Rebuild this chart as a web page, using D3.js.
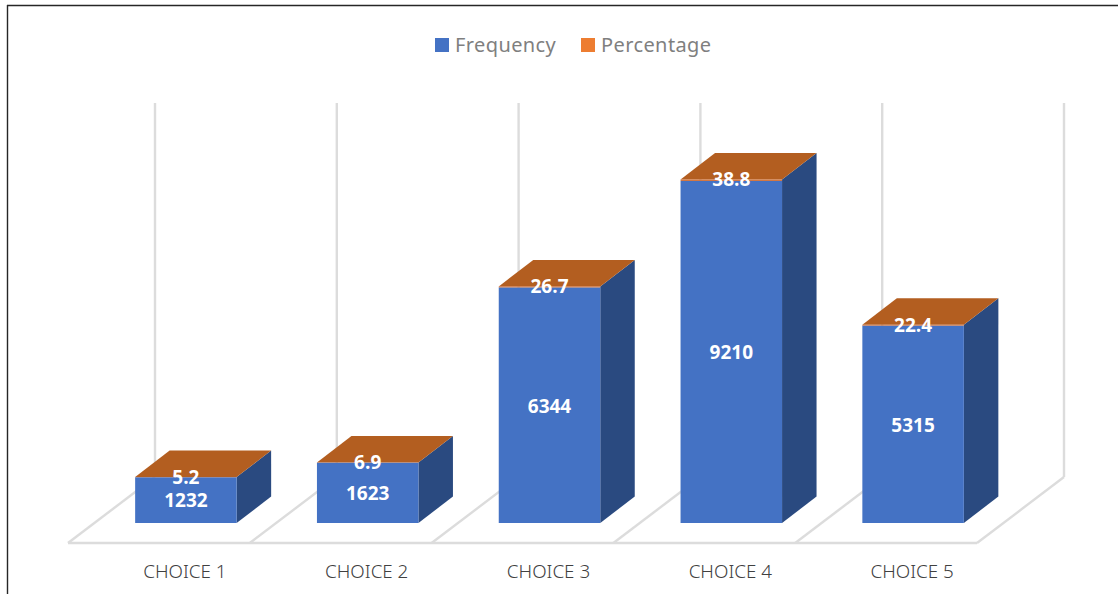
<!DOCTYPE html>
<html>
<head>
<meta charset="utf-8">
<script src="https://cdn.jsdelivr.net/npm/d3@7/dist/d3.min.js"></script>
<style>
  html, body { margin: 0; padding: 0; background: #fff; }
  svg { display: block; }
</style>
</head>
<body>
<svg id="chart" width="1118" height="594"></svg>
<script>
const categories = ["CHOICE 1", "CHOICE 2", "CHOICE 3", "CHOICE 4", "CHOICE 5"];
const frequency = [1232, 1623, 6344, 9210, 5315];
const percentage = [5.2, 6.9, 26.7, 38.8, 22.4];
const seriesNames = ["Frequency", "Percentage"];
const seriesColors = ["#4472C4", "#ED7D31"];

const svg = d3.select("#chart");

// Oblique projection used for the pseudo-3D box look
const floorDepth = { dx: 87, dy: -66 };
const barDepth = { dx: 34.5, dy: -26.5 };
const floorFrontY = 543;
const barBaseY = 523;
const barInset = { dx: 27, dy: -20 };
const wallTop = 103;

const x = d3.scaleBand().domain(categories).range([68, 977]);
const barWidth = 101.5;
const barLeft = c => x(c) + (x.bandwidth() - barWidth) / 2 + barInset.dx;

const stacked = d3.stack().keys([0, 1]).value((d, k) => d[k])(
  frequency.map((f, i) => [f, percentage[i]])
);
const y = d3.scaleLinear()
  .domain([0, d3.max(stacked[1], d => d[1])])
  .range([barBaseY, 179.5]);

// Outer frame of the chart area
const frame = svg.append("g").attr("stroke", "#262626").attr("stroke-width", 1.4).attr("fill", "none");
frame.append("line").attr("x1", 7).attr("x2", 1118).attr("y1", 5.5).attr("y2", 5.5);
frame.append("line").attr("x1", 7.5).attr("x2", 7.5).attr("y1", 5).attr("y2", 594);

// Back wall gridlines and the floor outline
const gridColor = "#DCDCDC";
const divisions = categories.map(c => x(c)).concat([x.range()[1]]);
const grid = svg.append("g").attr("stroke", gridColor).attr("stroke-width", 2.4).attr("fill", "none");
grid.selectAll("line.wall").data(divisions).join("line")
  .attr("class", "wall")
  .attr("x1", d => d + floorDepth.dx).attr("x2", d => d + floorDepth.dx)
  .attr("y1", wallTop).attr("y2", floorFrontY + floorDepth.dy);
grid.selectAll("line.floor").data(divisions).join("line")
  .attr("class", "floor")
  .attr("x1", d => d).attr("x2", d => d + floorDepth.dx)
  .attr("y1", floorFrontY).attr("y2", floorFrontY + floorDepth.dy);
grid.append("line")
  .attr("x1", x.range()[0]).attr("x2", x.range()[1])
  .attr("y1", floorFrontY).attr("y2", floorFrontY);

const poly = pts => pts.map(p => p.join(",")).join(" ");
const faceFront = "#4472C4", faceSide = "#2A4A80", faceTop = "#B35E20", faceEdge = "#D0703A";

const bars = svg.append("g").selectAll("g").data(categories).join("g");

// Side face
bars.append("polygon").attr("fill", faceSide).attr("points", (c, i) => {
  const r = barLeft(c) + barWidth, t = y(stacked[1][i][1]);
  return poly([[r, barBaseY], [r + barDepth.dx, barBaseY + barDepth.dy], [r + barDepth.dx, t + barDepth.dy], [r, t]]);
});
// Top face
bars.append("polygon").attr("fill", faceTop).attr("points", (c, i) => {
  const l = barLeft(c), t = y(stacked[1][i][1]);
  return poly([[l, t], [l + barDepth.dx, t + barDepth.dy], [l + barWidth + barDepth.dx, t + barDepth.dy], [l + barWidth, t]]);
});
// Front face, one slab per series
bars.append("rect").attr("fill", faceFront)
  .attr("x", barLeft).attr("width", barWidth)
  .attr("y", (c, i) => y(stacked[0][i][1]))
  .attr("height", (c, i) => y(0) - y(stacked[0][i][1]));
bars.append("rect").attr("fill", faceEdge)
  .attr("x", barLeft).attr("width", barWidth)
  .attr("y", (c, i) => y(stacked[1][i][1]))
  .attr("height", (c, i) => y(stacked[1][i][0]) - y(stacked[1][i][1]));

// Value labels
const valueFont = "'Open Sans', sans-serif";
const valueSize = 19;
bars.append("text")
  .attr("x", c => barLeft(c) + barWidth / 2)
  .attr("y", (c, i) => (y(0) + y(stacked[0][i][1])) / 2 + 0.5)
  .attr("dy", "0.36em").attr("text-anchor", "middle")
  .attr("font-family", valueFont).attr("font-weight", 700).attr("font-size", valueSize)
  .attr("fill", "#fff").text((c, i) => frequency[i]);
bars.append("text")
  .attr("x", c => barLeft(c) + barWidth / 2)
  .attr("y", (c, i) => y(stacked[1][i][1]))
  .attr("dy", "0.36em").attr("text-anchor", "middle")
  .attr("font-family", valueFont).attr("font-weight", 700).attr("font-size", valueSize)
  .attr("fill", "#fff").text((c, i) => percentage[i].toFixed(1));

// Category labels
svg.append("g").selectAll("text").data(categories).join("text")
  .attr("x", c => barLeft(c) + barWidth / 2 - 1)
  .attr("y", 578).attr("text-anchor", "middle")
  .attr("font-family", "'Noto Sans', sans-serif").attr("font-size", 18.8)
  .attr("font-weight", 300)
  .attr("fill", "#404040").text(c => c);

// Legend
const legendItems = [{ x: 435, tx: 455 }, { x: 581, tx: 601 }];
const legend = svg.append("g").selectAll("g").data(seriesNames).join("g");
legend.append("rect")
  .attr("x", (d, i) => legendItems[i].x).attr("y", 38).attr("width", 14).attr("height", 14)
  .attr("fill", (d, i) => seriesColors[i]);
legend.append("text")
  .attr("x", (d, i) => legendItems[i].tx).attr("y", 52)
  .attr("font-family", "'Noto Sans', sans-serif").attr("font-size", 20)
  .attr("letter-spacing", 0.4)
  .attr("fill", "#7F7F7F").text(d => d);
</script>
</body>
</html>
